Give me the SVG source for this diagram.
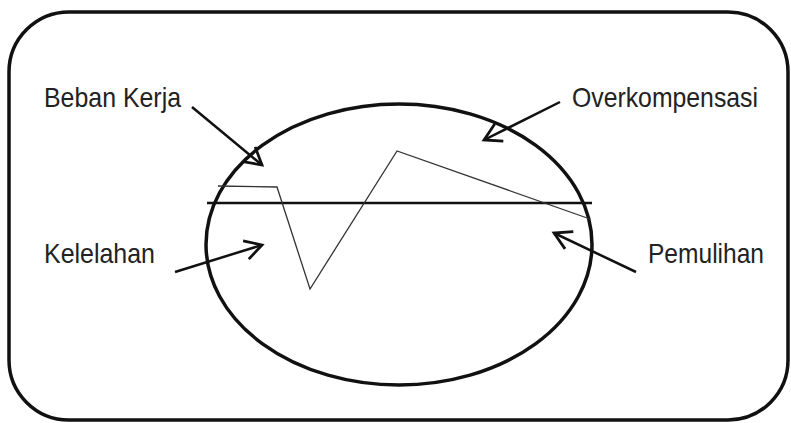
<svg xmlns="http://www.w3.org/2000/svg" width="791" height="423" viewBox="0 0 791 423">
<defs>
<style>
.frame{fill:none;stroke:#111;stroke-width:3.5}
.axis{fill:none;stroke:#111;stroke-width:2.5}
.curve{fill:none;stroke:#333;stroke-width:1.3;stroke-linejoin:miter}
.conn{fill:none;stroke:#111;stroke-width:2.5}
.lbl{font-family:"Liberation Sans",Arial,sans-serif;font-size:28px;fill:#222}
</style>
<marker id="ah" markerUnits="userSpaceOnUse" markerWidth="24" markerHeight="24" viewBox="-16 -10 20 20" refX="0" refY="0" orient="auto">
<path d="M-14,-8 L0,0 L-14,8" fill="none" stroke="#111" stroke-width="2.3"/>
</marker>
</defs>
<rect width="791" height="423" fill="#fff"/>
<g id="frame"><rect class="frame" x="9" y="12" width="779" height="408" rx="60" ry="60"/></g>
<g id="cycle">
<ellipse class="frame" cx="399" cy="244.5" rx="193" ry="140.5"/>
<line class="axis" x1="207" y1="203" x2="592" y2="203"/>
<polyline class="curve" points="218,186 277,187 310,289 397,151 590,219"/>
</g>
<g id="connectors">
<line class="conn" x1="192" y1="107" x2="262" y2="165" marker-end="url(#ah)"/>
<line class="conn" x1="560" y1="102" x2="484" y2="140" marker-end="url(#ah)"/>
<line class="conn" x1="175" y1="272" x2="262" y2="245" marker-end="url(#ah)"/>
<line class="conn" x1="636" y1="272" x2="554" y2="233" marker-end="url(#ah)"/>
</g>
<g id="beban-kerja"><text class="lbl" x="44" y="107" textLength="137" lengthAdjust="spacingAndGlyphs">Beban Kerja</text></g>
<g id="overkompensasi"><text class="lbl" x="572" y="107" textLength="186" lengthAdjust="spacingAndGlyphs">Overkompensasi</text></g>
<g id="kelelahan"><text class="lbl" x="44" y="263" textLength="111" lengthAdjust="spacingAndGlyphs">Kelelahan</text></g>
<g id="pemulihan"><text class="lbl" x="648" y="263" textLength="116" lengthAdjust="spacingAndGlyphs">Pemulihan</text></g>
</svg>
